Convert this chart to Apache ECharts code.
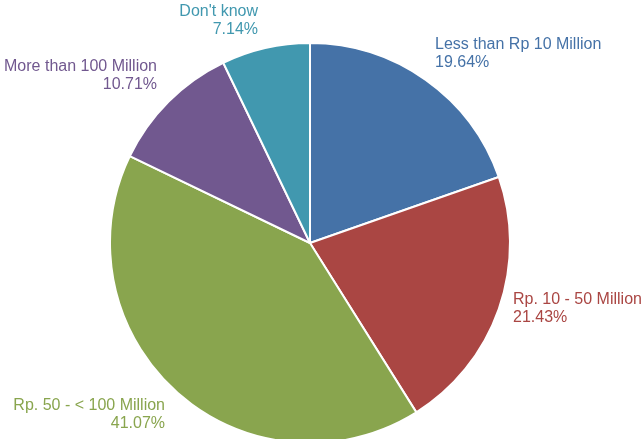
<!DOCTYPE html>
<html>
<head>
<meta charset="utf-8">
<script src="https://cdn.jsdelivr.net/npm/echarts@6/dist/echarts.min.js"></script>
<style>
  html, body { margin: 0; padding: 0; background: #ffffff; }
  #chart { width: 643px; height: 439px; }
</style>
</head>
<body>
<div id="chart"></div>
<script>
// Household income groups and their shares (%)
const categories = [
  'Less than Rp 10 Million',
  'Rp. 10 - 50 Million',
  'Rp. 50 - < 100 Million',
  'More than 100 Million',
  "Don't know"
];
const shares = [19.64, 21.43, 41.07, 10.71, 7.14];

const palette = ['#4572A7', '#AA4643', '#89A54E', '#71588F', '#4198AF'];

// Where each slice's two-line label sits (anchor x, vertical centre, alignment)
const labelSpots = [
  { x: 435, y: 54, align: 'left' },
  { x: 513, y: 309, align: 'left' },
  { x: 165, y: 415, align: 'right' },
  { x: 157, y: 76, align: 'right' },
  { x: 258, y: 21, align: 'right' }
];

const chart = echarts.init(document.getElementById('chart'), null, { renderer: 'canvas' });

chart.setOption({
  animation: false,
  color: palette,
  series: [{
    type: 'pie',
    center: [310, 243],
    radius: 200,
    startAngle: 90,
    clockwise: true,
    avoidLabelOverlap: false,
    emphasis: { disabled: true },
    itemStyle: { borderColor: '#ffffff', borderWidth: 2 },
    label: {
      show: true,
      position: 'outside',
      fontFamily: 'Liberation Sans, Arial, sans-serif',
      fontSize: 16,
      lineHeight: 18,
      formatter: p => p.name + '\n' + p.value.toFixed(2) + '%'
    },
    labelLine: { show: false },
    labelLayout: params => {
      const s = labelSpots[params.dataIndex];
      return { x: s.x, y: s.y, align: s.align, verticalAlign: 'middle' };
    },
    data: categories.map((name, i) => ({
      name: name,
      value: shares[i],
      label: { color: palette[i], align: labelSpots[i].align }
    }))
  }]
});
</script>
</body>
</html>
